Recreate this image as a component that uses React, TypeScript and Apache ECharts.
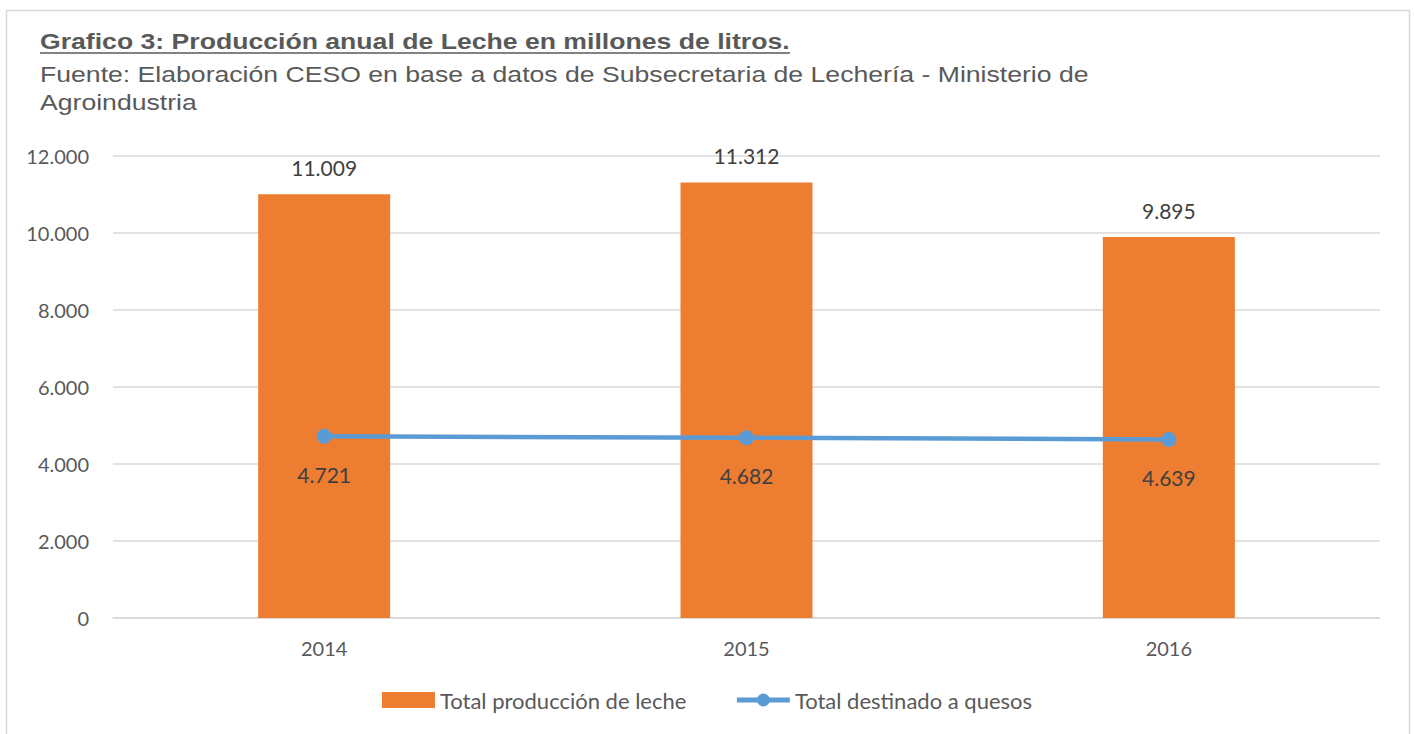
import React, { useEffect, useRef } from "react";
import * as echarts from "echarts";

const categories = ["2014", "2015", "2016"];
const produccion = [11009, 11312, 9895];
const quesos = [4721, 4682, 4639];
const yTicks = { min: 0, max: 12000, interval: 2000 };

const titleText = "Grafico 3: Producción anual de Leche en millones de litros.";
const subLine1 = "Fuente: Elaboración CESO en base a datos de Subsecretaria de Lechería - Ministerio de";
const subLine2 = "Agroindustria";

const fmt = (v: number) => {
  const s = Math.round(v).toString();
  return s.replace(/\B(?=(\d{3})+(?!\d))/g, ".");
};

const HEAD_FAMILY = "Liberation Sans, Arial, sans-serif";
const HEAD_SIZE = 22;
const HEAD_STRETCH = 1.21;

function measure(text: string, font: string) {
  const c = document.createElement("canvas");
  const ctx = c.getContext("2d");
  if (!ctx) return 620;
  ctx.font = font;
  return ctx.measureText(text).width;
}

export default function App() {
  const ref = useRef<HTMLDivElement>(null);
  useEffect(() => {
    document.body.style.margin = "0";
    if (!ref.current) return;
    const chart = echarts.init(ref.current, undefined, { renderer: "svg" });
    const tw = measure(titleText, `bold ${HEAD_SIZE}px "Liberation Sans", Arial, sans-serif`) * HEAD_STRETCH;
    const axisFont = "Lato, 'Open Sans', sans-serif";
    chart.setOption({
      animation: false,
      backgroundColor: "#ffffff",
      textStyle: { fontFamily: axisFont },
      graphic: [
        {
          type: "rect",
          shape: { x: 6.5, y: 10.5, width: 1403, height: 740 },
          style: { fill: "none", stroke: "#d9d9d9", lineWidth: 1.5 },
          silent: true,
        },
        {
          type: "text",
          x: 40,
          y: 41,
          scaleX: HEAD_STRETCH,
          style: {
            text: titleText,
            fontFamily: HEAD_FAMILY,
            fontSize: HEAD_SIZE,
            fontWeight: "bold",
            fill: "#595959",
            verticalAlign: "middle",
          },
        },
        {
          type: "line",
          shape: { x1: 40, y1: 53, x2: 40 + tw, y2: 53 },
          style: { stroke: "#595959", lineWidth: 1.5 },
        },
        {
          type: "text",
          x: 40,
          y: 74,
          scaleX: HEAD_STRETCH,
          style: {
            text: subLine1,
            fontFamily: HEAD_FAMILY,
            fontSize: HEAD_SIZE,
            fill: "#595959",
            verticalAlign: "middle",
          },
        },
        {
          type: "text",
          x: 40,
          y: 102,
          scaleX: HEAD_STRETCH,
          style: {
            text: subLine2,
            fontFamily: HEAD_FAMILY,
            fontSize: HEAD_SIZE,
            fill: "#595959",
            verticalAlign: "middle",
          },
        },
      ],
      grid: { left: 113, right: 34, top: 156, bottom: 116, containLabel: false },
      legend: {
        bottom: 18,
        left: "center",
        itemGap: 48,
        itemWidth: 53,
        itemHeight: 16,
        textStyle: { fontSize: 22, color: "#595959", fontFamily: axisFont },
        data: [
          { name: "Total producción de leche", icon: "rect", itemStyle: { color: "#ed7d31" } },
          { name: "Total destinado a quesos", lineStyle: { width: 5, color: "#5b9bd5" } },
        ],
      },
      xAxis: {
        type: "category",
        data: categories,
        axisLine: { lineStyle: { color: "#d9d9d9", width: 1.5 } },
        axisTick: { show: false },
        axisLabel: { fontSize: 20, color: "#595959", margin: 20 },
      },
      yAxis: {
        type: "value",
        min: yTicks.min,
        max: yTicks.max,
        interval: yTicks.interval,
        axisLine: { show: false },
        axisTick: { show: false },
        splitLine: { lineStyle: { color: "#d9d9d9", width: 1.5 } },
        axisLabel: {
          fontSize: 20,
          color: "#595959",
          margin: 24,
          formatter: (v: number) => fmt(v),
        },
      },
      series: [
        {
          name: "Total producción de leche",
          type: "bar",
          data: produccion,
          barWidth: 132,
          itemStyle: { color: "#ed7d31" },
          label: {
            show: true,
            position: "top",
            distance: 16,
            fontSize: 21,
            color: "#404040",
            formatter: (p: any) => fmt(p.value),
          },
        },
        {
          name: "Total destinado a quesos",
          type: "line",
          data: quesos,
          symbol: "circle",
          symbolSize: 15,
          lineStyle: { color: "#5b9bd5", width: 4.5 },
          itemStyle: { color: "#5b9bd5" },
          label: {
            show: true,
            position: "bottom",
            distance: 20,
            fontSize: 21,
            color: "#404040",
            formatter: (p: any) => fmt(p.value),
          },
        },
      ],
    });
    return () => chart.dispose();
  }, []);
  return <div ref={ref} style={{ width: 1414, height: 734 }} />;
}
